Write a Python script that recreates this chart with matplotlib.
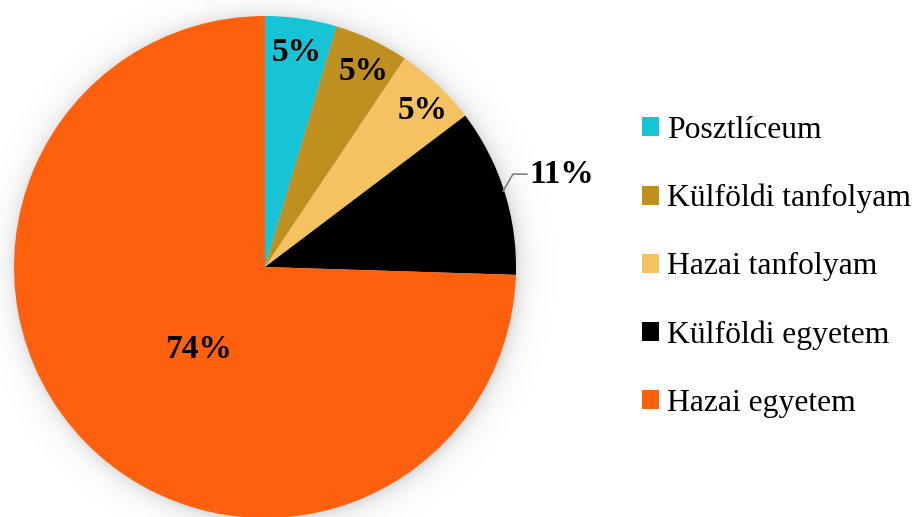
import numpy as np
import matplotlib
matplotlib.use("Agg")
import matplotlib.pyplot as plt

categories = ["Posztlíceum", "Külföldi tanfolyam", "Hazai tanfolyam", "Külföldi egyetem", "Hazai egyetem"]
values = [4.6, 4.8, 5.3, 10.8, 74.5]
pct_labels = ["5%", "5%", "5%", "11%", "74%"]
colors = ["#17C4D6", "#BF8F20", "#F5C262", "#000000", "#FF600E"]

plt.rcParams['font.family'] = ['Liberation Serif', 'DejaVu Serif']

W, H = 915, 517
fig = plt.figure(figsize=(W / 100, H / 100), dpi=100)
cx, cy, r = 265, 267, 251
ax = fig.add_axes([(cx - 1.3 * r) / W, (H - cy - 1.3 * r) / H, 2.6 * r / W, 2.6 * r / H])
ax.set_xlim(-1.3, 1.3)
ax.set_ylim(-1.3, 1.3)
ax.axis('off')

# soft shadow halo
n = 400
g = np.linspace(-1.3, 1.3, n)
X, Y = np.meshgrid(g, g)
D = np.sqrt((X - 0.005) ** 2 + (Y + 0.008) ** 2)
alpha = np.clip(np.exp(-(D - 0.99) / 0.04), 0, 1) * 0.25
alpha[D < 0.99] = 0.25
img = np.zeros((n, n, 4))
img[..., :3] = 0.35
img[..., 3] = alpha
ax.imshow(img, extent=[-1.3, 1.3, -1.3, 1.3], origin='lower', zorder=0, interpolation='bilinear')

wedges, _ = ax.pie(values, colors=colors, startangle=90, counterclock=False,
                   radius=1.0, wedgeprops=dict(linewidth=0))
for w in wedges:
    w.set_zorder(2)
ax.set_xlim(-1.3, 1.3)
ax.set_ylim(-1.3, 1.3)
ax.set_aspect('auto')

# label placement style: radius and angular nudge (degrees)
inside_r = [0.865, 0.872, 0.885, None, 0.42]
nudge = [0.0, -1.5, -2.0, 0.0, 7.0]
for i, w in enumerate(wedges):
    ang = np.deg2rad((w.theta1 + w.theta2) / 2 + nudge[i])
    if inside_r[i] is not None:
        rr = inside_r[i]
        ax.text(rr * np.cos(ang), rr * np.sin(ang), pct_labels[i], ha='center', va='center',
                fontsize=24, fontweight='bold', color='black', zorder=3)
    else:
        x0, y0 = 0.995 * np.cos(ang), 0.995 * np.sin(ang)
        ax.annotate(pct_labels[i], xy=(x0, y0), xytext=(1.055, 0.37),
                    ha='left', va='center', fontsize=24, fontweight='bold', zorder=3,
                    arrowprops=dict(arrowstyle='-', color='#808080', lw=1.2,
                                    connectionstyle='angle,angleA=0,angleB=60,rad=0',
                                    shrinkA=0, shrinkB=0))

leg = fig.legend(wedges, categories, loc='upper left', bbox_to_anchor=(642 / W, 1 - 116 / H),
                 frameon=False, fontsize=22.8, handlelength=0.55, handleheight=0.55,
                 handletextpad=0.25, labelspacing=1.23, borderpad=0, borderaxespad=0)

fig.savefig("out.png", dpi=100)
